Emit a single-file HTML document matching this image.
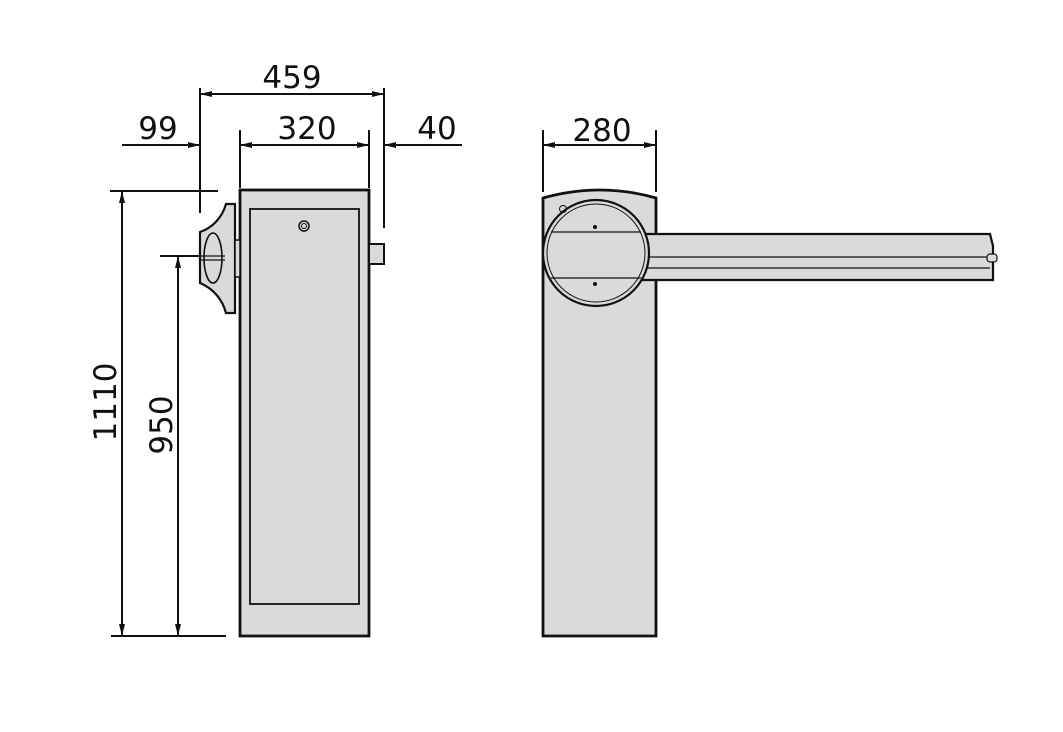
<!DOCTYPE html>
<html><head><meta charset="utf-8"><style>
html,body{margin:0;padding:0;background:#fff;}
svg{display:block;}
text{font-family:"DejaVu Sans","Liberation Sans",sans-serif;fill:#111;}
</style></head><body>
<svg width="1063" height="732" viewBox="0 0 1063 732" xmlns="http://www.w3.org/2000/svg">
<defs>
<marker id="a" viewBox="0 0 12 7" refX="12" refY="3.5" markerWidth="12" markerHeight="7" orient="auto-start-reverse" markerUnits="userSpaceOnUse"><path d="M0,0.5 L12,3.5 L0,6.5 z" fill="#111"/></marker>
</defs>
<g stroke="#111" stroke-width="2" fill="none">
<line x1="200" y1="88" x2="200" y2="213"/>
<line x1="384" y1="88" x2="384" y2="228"/>
<line x1="240" y1="130" x2="240" y2="188"/>
<line x1="369" y1="130" x2="369" y2="188"/>
<line x1="200" y1="94" x2="384" y2="94" marker-start="url(#a)" marker-end="url(#a)"/>
<line x1="240" y1="145" x2="369" y2="145" marker-start="url(#a)" marker-end="url(#a)"/>
<line x1="122" y1="145" x2="200" y2="145" marker-end="url(#a)"/>
<line x1="462" y1="145" x2="384" y2="145" marker-end="url(#a)"/>
<line x1="110" y1="191" x2="218" y2="191"/>
<line x1="160" y1="256" x2="222" y2="256"/>
<line x1="111" y1="636" x2="226" y2="636"/>
<line x1="122" y1="191" x2="122" y2="636" marker-start="url(#a)" marker-end="url(#a)"/>
<line x1="178" y1="256" x2="178" y2="636" marker-start="url(#a)" marker-end="url(#a)"/>
<line x1="543" y1="130" x2="543" y2="192"/>
<line x1="656" y1="130" x2="656" y2="192"/>
<line x1="543" y1="145" x2="656" y2="145" marker-start="url(#a)" marker-end="url(#a)"/>
</g>
<g stroke="#111" fill="#dadada">
<rect x="240" y="190" width="129" height="446" stroke-width="2.8"/>
<rect x="250" y="209" width="109" height="395" stroke-width="1.8"/>
<circle cx="304" cy="226" r="5" stroke-width="1.5"/>
<circle cx="304" cy="226" r="2.5" stroke-width="1"/>
<rect x="369" y="244" width="15" height="20" stroke-width="2"/>
<path d="M235,204 L226,204 C222,218 212,228 200,232 L200,283 C212,288 222,298 226,313 L235,313 Z" stroke-width="2.2"/>
<rect x="235" y="240" width="5" height="37" stroke-width="1.5"/>
<ellipse cx="213" cy="258" rx="9" ry="25" stroke-width="1.6"/>
<line x1="200" y1="256" x2="225" y2="256" stroke-width="1.2"/>
<line x1="200" y1="260" x2="225" y2="260" stroke-width="1.2"/>
</g>
<g stroke="#111" fill="#dadada">
<path d="M543,636 L543,198 Q600,182 656,198 L656,636 Z" stroke-width="2.8"/>
<path d="M640,234 L990,234 L993,246 L993,280 L640,280" stroke-width="2.2"/>
<line x1="645" y1="257" x2="990" y2="257" stroke-width="1.2"/>
<line x1="645" y1="268" x2="990" y2="268" stroke-width="1.2"/>
<rect x="987" y="254" width="10" height="8" rx="3" stroke-width="1.2"/>
<circle cx="596" cy="253" r="53" stroke-width="2.2"/>
<circle cx="596" cy="253" r="49" stroke-width="1" fill="none"/>
<line x1="551" y1="232" x2="641" y2="232" stroke-width="1.2"/>
<line x1="551" y1="278" x2="641" y2="278" stroke-width="1.2"/>
<circle cx="595" cy="227" r="2" fill="#111" stroke="none"/>
<circle cx="595" cy="284" r="2" fill="#111" stroke="none"/>
<circle cx="563" cy="209" r="3.5" stroke-width="1" fill="none"/>
</g>
<g font-size="31">
<text x="292" y="88" text-anchor="middle">459</text>
<text x="158" y="139" text-anchor="middle">99</text>
<text x="307" y="139" text-anchor="middle">320</text>
<text x="437" y="139" text-anchor="middle">40</text>
<text x="602" y="141" text-anchor="middle">280</text>
<text transform="translate(116,402) rotate(-90)" text-anchor="middle">1110</text>
<text transform="translate(172,425) rotate(-90)" text-anchor="middle">950</text>
</g>
</svg>
</body></html>
